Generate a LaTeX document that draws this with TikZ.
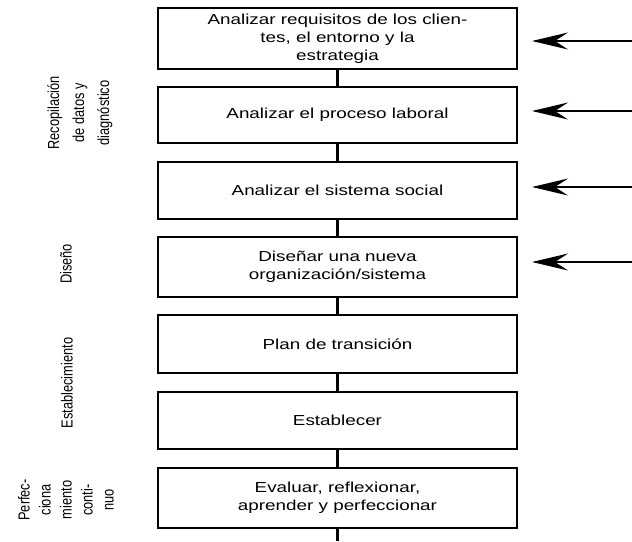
\documentclass[tikz,border=0pt]{standalone}
\usepackage{fontspec}
\setmainfont{Liberation Sans}
\newfontfamily\boxfont{Liberation Sans}[FakeStretch=1.3]
\newfontfamily\sidefont{Liberation Sans}[FakeStretch=0.8]
\usetikzlibrary{arrows.meta}
\begin{document}
\begin{tikzpicture}[x=1pt,y=-1pt,
  stepbox/.style={draw, line width=2.2pt, minimum width=359pt, inner sep=0pt, outer sep=0pt, align=center, font=\boxfont\fontsize{14.5}{18}\selectfont},
  link/.style={line width=2.2pt},
  feed/.style={line width=1.3pt, -{Stealth[length=36pt 0 0,width=17pt 0 0,inset=13pt 0]}, shorten >=15pt},
  side/.style={rotate=90, align=center, inner sep=0pt, font=\sidefont\fontsize{16}{25}\selectfont}]
\useasboundingbox (0,0) rectangle (632,541);

\node[stepbox, minimum height=61pt] (b1) at (337.5,38.5) {Analizar requisitos de los clien-\\tes, el entorno y la\\estrategia};
\node[stepbox, minimum height=56pt] (b2) at (337.5,115) {Analizar el proceso laboral};
\node[stepbox, minimum height=57pt] (b3) at (337.5,190.5) {Analizar el sistema social};
\node[stepbox, minimum height=60pt] (b4) at (337.5,267) {Diseñar una nueva\\organización/sistema};
\node[stepbox, minimum height=58pt] (b5) at (337.5,344) {Plan de transición};
\node[stepbox, minimum height=57pt] (b6) at (337.5,420.5) {Establecer};
\node[stepbox, minimum height=60pt] (b7) at (337.5,498) {Evaluar, reflexionar,\\aprender y perfeccionar};
\coordinate (end) at (337.5,541);

\draw[link] (b1) -- (b2);
\draw[link] (b2) -- (b3);
\draw[link] (b3) -- (b4);
\draw[link] (b4) -- (b5);
\draw[link] (b5) -- (b6);
\draw[link] (b6) -- (b7);
\draw[link] (b7) -- (end);

\coordinate (in1) at (632,41);
\coordinate (in2) at (632,111);
\coordinate (in3) at (632,187);
\coordinate (in4) at (632,262);
\draw[feed] (in1) -- (in1 -| b1.east);
\draw[feed] (in2) -- (in2 -| b2.east);
\draw[feed] (in3) -- (in3 -| b3.east);
\draw[feed] (in4) -- (in4 -| b4.east);

\node[side] (l1) at (80,113) {Recopilación\\de datos y\\diagnóstico};
\node[side] (l2) at (66,264) {Diseño};
\node[side] (l3) at (67,383) {Establecimiento};
\node[side, font=\sidefont\fontsize{16}{21}\selectfont] (l4) at (66,500) {Perfec-\\ciona\\miento\\conti-\\nuo};
\end{tikzpicture}
\end{document}
